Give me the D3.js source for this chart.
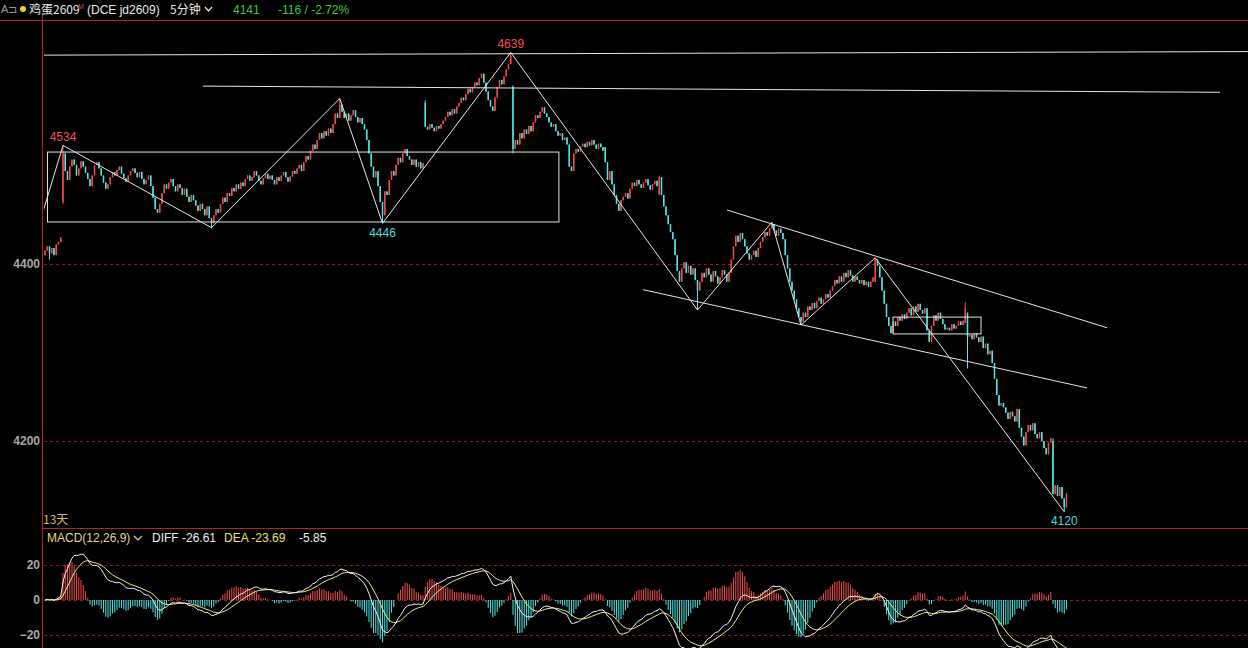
<!DOCTYPE html>
<html><head><meta charset="utf-8">
<script src="https://cdn.jsdelivr.net/npm/d3@7"></script>
<style>html,body{margin:0;padding:0;background:#000;overflow:hidden}svg{display:block}</style>
</head><body><svg id="c" width="1248" height="648"></svg>
<script>
// ---- data (5-minute closes of 鸡蛋2609) ----
const closes = [
 4415,4420,4412,4418,4410,4422,4425,4430,
 4525,
 4505,4495,4510,4518,4512,4500,4508,4516,4510,4503,4496,4488,4500,4512,4515,4508,
 4500,4492,4485,4490,4498,4504,4500,4506,4510,4502,4497,4493,4500,4505,4508,4503,
 4498,4504,4496,4490,4495,4500,4488,4475,4462,4458,
 4468,4480,4490,4485,4492,4496,4488,4482,4490,4486,
 4478,4485,4476,4470,4478,4472,4466,4460,4468,4462,4455,4465,4452,4446,
 4455,4462,4458,4468,4475,4470,4480,4477,4486,4482,4490,4485,
 4492,4488,4496,4500,4494,4498,4505,4500,4494,4490,4497,4502,4496,4500,
 4495,4490,4498,4494,4500,4504,4498,4493,4499,4505,4502,4508,4512,
 4505,4515,4522,4518,4528,4535,4530,4540,4548,
 4542,4550,4545,4553,4548,4558,4570,4565,4580,
 4572,4565,4570,4562,4568,4574,4566,4560,4565,4558,4552,
 4540,4525,4510,4498,4505,4488,4470,4455,
 4482,4478,4495,4505,4500,4512,4520,4515,4525,4530,4522,4518,
 4512,4518,4510,4515,4508,4514,
 4555,
 4552,4558,4554,4550,4556,4553,4558,4562,
 4566,4572,4568,4575,4570,4578,4582,
 4588,4585,4592,4598,4594,4600,4605,4602,4610,
 4615,4605,4595,4585,4578,4573,
 4588,4600,4608,4603,4612,4620,4626,
 4635,
 4530,
 4540,4535,4548,4542,4552,4547,4556,4550,
 4560,4568,4565,4572,4577,4570,4566,
 4560,4555,4558,4550,4545,4548,4540,4543,4535,
 4510,4505,
 4525,4530,4527,4533,
 4536,4532,4538,4534,4540,4535,4530,4536,4532,4528,
 4515,4495,4505,4490,
 4478,4468,4460,4472,
 4476,4480,4474,
 4485,4492,4488,4495,4490,4486,4492,4496,4489,4484,4490,4494,4488,4498,
 4478,4465,4455,4445,4436,4428,
 4410,4392,4380,
 4395,4402,4390,4398,4388,4395,4382,4370,
 4380,4390,4385,4395,4388,4380,4392,4386,4378,4385,4393,4388,4380,4390,
 4405,4420,4432,4425,4435,4428,4420,
 4412,4405,4410,4415,4408,4418,4425,
 4430,4436,4432,4440,4445,
 4438,4432,4440,4435,4428,
 4410,4395,4380,4370,4360,4350,4340,4335,
 4345,4340,4352,4348,4356,4350,4358,4362,4355,4360,4366,4362,4370,
 4375,4382,4378,4386,4380,4390,4385,4393,4387,4380,4386,4382,4378,
 4382,4376,4380,4374,4380,4385,
 4405,
 4398,4385,4370,4355,4340,4330,4322,
 4335,4330,4340,4336,4343,4338,
 4345,4350,4342,4352,4346,4355,4348,4344,4350,
 4325,4312,
 4330,4342,4336,4345,4338,4332,4326,
 4328,4325,4332,4327,4330,4335,4331,4336,
 4350,4318,
 4320,4315,4322,4317,4312,4318,
 4305,4310,4298,4302,4288,
 4270,4252,4240,4243,4238,
 4232,4225,4233,4228,4222,4236,
 4215,4205,4195,
 4210,4218,4212,4220,
 4208,4203,4210,4200,
 4192,4185,4198,4203,
 4140,4150,4138,4148,4135,4125,4141
];
// [bar index, open, high, low]  (null = open is previous close / no extra wick)
const candleOverrides = [
 [0,4410,null,null],[2,null,null,4405],[8,4470,4534,4468],[74,null,null,4441],
 [131,null,4587,null],[150,null,null,4446],[169,4582,4585,null],[207,null,4639,null],
 [208,4600,4602,4525],[249,4532,null,null],[273,4478,4500,null],[290,null,null,4348],
 [323,null,4447,null],[336,null,null,4331],[369,4380,4407,null],[409,4333,4357,null],
 [410,4345,null,4282],[448,4200,4203,null],[453,null,null,4120]
];
const priceTicks = [4400, 4200];
const macdTicks = [20, 0, -20];
// drawn analysis lines, in (bar index, price)
const zigzag = [[-0.9,4459],[8,4534],[74,4441],[131,4587],[150,4446],[207,4639],[290,4348],[323,4447],[336,4331],[369,4407],[453,4120]];
const trendLines = [
 [[-0.9,4636],[534.7,4640]],
 [[70.2,4601],[522.2,4594]],
 [[303.1,4461],[472,4328]],
 [[265.8,4371],[463.1,4260]]
];
const boxes = [[1.1,228.4,4526.5,4447.5],[376.9,416,4340,4321]];
const pivotLabels = [[8,4534,"high"],[150,4446,"low"],[207,4639,"high"],[453,4120,"low"]];

// ---- scales ----
const W = 1248, H = 648;
const x = d3.scaleLinear().domain([0, 454]).range([45, 1066.5]);
const y = d3.scaleLinear().domain([4200, 4400]).range([441, 264]);
const ym = d3.scaleLinear().domain([-20, 20]).range([635, 565]);

const RED = "#f04a4a", CYAN = "#4fe6e6", GRID = "#8a1c1c", AXIS = "#b02424";
const svg = d3.select("#c");
svg.append("rect").attr("width", W).attr("height", H).attr("fill", "#000");
const defs = svg.append("defs");
defs.append("clipPath").attr("id", "cm").append("rect").attr("x", 44).attr("y", 21).attr("width", W - 44).attr("height", 506);
defs.append("clipPath").attr("id", "cd").append("rect").attr("x", 44).attr("y", 530).attr("width", W - 44).attr("height", 118);

// candles
const ov = new Map(candleOverrides.map(d => [d[0], d]));
const candles = closes.map((c, i) => {
  let o = i > 0 ? closes[i - 1] : c, h = null, l = null;
  const r = ov.get(i);
  if (r) { if (r[1] != null) o = r[1]; h = r[2]; l = r[3]; }
  const hi = Math.max(o, c, h == null ? -Infinity : h);
  const lo = Math.min(o, c, l == null ? Infinity : l);
  return { i, o, c, h: hi, l: lo };
});

// grid
const grid = svg.append("g");
grid.selectAll("line.pg").data(priceTicks).join("line")
  .attr("x1", 44).attr("x2", W).attr("y1", d => Math.round(y(d)) + 0.5).attr("y2", d => Math.round(y(d)) + 0.5)
  .attr("stroke", GRID).attr("stroke-dasharray", "3,3");
grid.selectAll("line.mg").data(macdTicks).join("line")
  .attr("x1", 44).attr("x2", W).attr("y1", d => Math.round(ym(d)) + 0.5).attr("y2", d => Math.round(ym(d)) + 0.5)
  .attr("stroke", GRID).attr("stroke-dasharray", "3,3");

// panel borders
svg.append("line").attr("x1", 0).attr("x2", W).attr("y1", 20.5).attr("y2", 20.5).attr("stroke", AXIS);
svg.append("line").attr("x1", 43).attr("x2", W).attr("y1", 528.5).attr("y2", 528.5).attr("stroke", AXIS);
svg.append("line").attr("x1", 42.5).attr("x2", 42.5).attr("y1", 14).attr("y2", H).attr("stroke", AXIS);

// axes
const axFont = "Liberation Sans, Arial, sans-serif";
const ga = svg.append("g").attr("transform", "translate(41,0)")
  .call(d3.axisLeft(y).tickValues(priceTicks).tickSize(0).tickPadding(1).tickFormat(d3.format("d")));
const gm = svg.append("g").attr("transform", "translate(41,0)")
  .call(d3.axisLeft(ym).tickValues(macdTicks).tickSize(0).tickPadding(1).tickFormat(d3.format("d")));
[ga, gm].forEach(g => {
  g.select(".domain").remove();
  g.selectAll("text").attr("fill", "#a8a8a8").attr("font-size", 12).attr("font-family", axFont).attr("font-weight", "bold");
});

// main panel content
const main = svg.append("g").attr("clip-path", "url(#cm)");
const col = d => d.c > d.o ? RED : d.c < d.o ? CYAN : "#e8e8e8";
main.selectAll("line.wick").data(candles).join("line")
  .attr("x1", d => x(d.i)).attr("x2", d => x(d.i))
  .attr("y1", d => y(d.h)).attr("y2", d => y(d.l))
  .attr("stroke", col).attr("stroke-width", 1);
main.selectAll("rect.body").data(candles).join("rect")
  .attr("x", d => x(d.i) - 0.75).attr("width", 1.5)
  .attr("y", d => y(Math.max(d.o, d.c)))
  .attr("height", d => Math.max(1, Math.abs(y(d.o) - y(d.c))))
  .attr("fill", col);

const ln = d3.line().x(d => x(d[0])).y(d => y(d[1]));
const white = "#e6e6e6";
main.append("path").attr("d", ln(zigzag)).attr("fill", "none").attr("stroke", white).attr("stroke-width", 1);
main.selectAll("path.tl").data(trendLines).join("path").attr("d", ln).attr("fill", "none").attr("stroke", white).attr("stroke-width", 1);
main.selectAll("rect.box").data(boxes).join("rect")
  .attr("x", d => x(d[0])).attr("y", d => y(d[2]))
  .attr("width", d => x(d[1]) - x(d[0])).attr("height", d => y(d[3]) - y(d[2]))
  .attr("fill", "none").attr("stroke", white).attr("stroke-width", 1);

svg.selectAll("text.piv").data(pivotLabels).join("text")
  .attr("x", d => x(d[0])).attr("y", d => d[2] === "high" ? y(d[1]) - 4.5 : y(d[1]) + 13.5)
  .attr("text-anchor", "middle").attr("font-size", 12).attr("font-family", axFont)
  .attr("fill", d => d[2] === "high" ? "#f05050" : "#4fd8d8").text(d => d3.format("d")(d[1]));

// MACD(12,26,9)
const diff = [], dea = [];
let e12 = closes[0], e26 = closes[0], de = 0;
closes.forEach((c, i) => {
  e12 = i ? e12 * 11 / 13 + c * 2 / 13 : c;
  e26 = i ? e26 * 25 / 27 + c * 2 / 27 : c;
  const df = e12 - e26;
  de = i ? de * 0.8 + df * 0.2 : df;
  diff.push(df); dea.push(de);
});
const hist = diff.map((d, i) => 2 * (d - dea[i]));
const sub = svg.append("g").attr("clip-path", "url(#cd)");
sub.selectAll("line.h").data(hist).join("line")
  .attr("x1", (d, i) => x(i)).attr("x2", (d, i) => x(i))
  .attr("y1", ym(0)).attr("y2", d => ym(d))
  .attr("stroke", d => d >= 0 ? "#e04848" : "#48d8d8").attr("stroke-width", 1.1);
const lm = d3.line().x((d, i) => x(i)).y(d => ym(d));
sub.append("path").attr("d", lm(dea)).attr("fill", "none").attr("stroke", "#ecec8c").attr("stroke-width", 1);
sub.append("path").attr("d", lm(diff)).attr("fill", "none").attr("stroke", "#f4f4f4").attr("stroke-width", 1);

// texts
const cjk = "Noto Sans CJK SC, Liberation Sans, sans-serif";
const t = (xx, yy, s, fill, size, fam, anchor) => svg.append("text").attr("x", xx).attr("y", yy).text(s)
  .attr("fill", fill).attr("font-size", size || 12).attr("font-family", fam || axFont).attr("text-anchor", anchor || "start");
t(1, 13, "A\u2290", "#9a9a9a", 11);
svg.append("circle").attr("cx", 23).attr("cy", 9).attr("r", 3).attr("fill", "#f0d020");
t(29, 14, "鸡蛋2609", "#e8e8e8", 12, cjk);
t(78, 9, "M", "#e04040", 7);
t(87, 14, "(DCE  jd2609)", "#e8e8e8", 12);
t(170, 14, "5分钟", "#e8e8e8", 12, cjk);
svg.append("path").attr("d", "M205,7 L208.5,11 L212,7").attr("fill", "none").attr("stroke", "#e8e8e8").attr("stroke-width", 1.2);
t(233, 14, "4141", "#3ccc3c", 12);
t(278, 14, "-116 / -2.72%", "#3ccc3c", 12);
t(43, 524, "13天", "#d8b860", 12, cjk);
t(47, 542, "MACD(12,26,9)", "#e0d68a", 12);
svg.append("path").attr("d", "M134,536 L138,540 L142,536").attr("fill", "none").attr("stroke", "#e0d68a").attr("stroke-width", 1.2);
t(152, 542, "DIFF -26.61", "#f0f0f0", 12);
t(224, 542, "DEA -23.69", "#e8e070", 12);
t(299, 542, "-5.85", "#f0f0f0", 12);
</script></body></html>
